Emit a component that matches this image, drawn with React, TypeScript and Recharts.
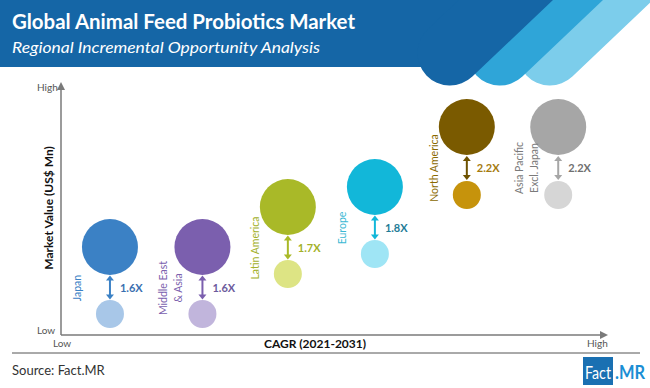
import React from 'react';
import { ScatterChart, Scatter, XAxis, YAxis } from 'recharts';

// region names as they are written (one entry per line of the rotated label)
const regionLines: string[][] = [
  ['Japan'],
  ['Middle East', '& Asia'],
  ['Latin America'],
  ['Europe'],
  ['North America'],
  ['Asia Pacific', 'Excl. Japan'],
];

// relative position on the CAGR axis (low -> high, 0..100)
const cagr = [9, 26, 41.7, 57.7, 74.6, 91.4];
// relative market value (low -> high, 0..100)
const value2021 = [8.4, 8.4, 24.4, 32.4, 56, 56];
const value2031 = [35.2, 35.2, 51.2, 59.2, 83.2, 83.2];
const multiplier = ['1.6X', '1.6X', '1.7X', '1.8X', '2.2X', '2.2X'];

const bigColor = ['#3b81c5', '#7b5fae', '#a9b928', '#12b7d9', '#7a5a00', '#a6a6a6'];
const smallColor = ['#a8c7e8', '#c1b5dc', '#dde484', '#9fe5f5', '#c6930c', '#d6d6d6'];
const arrowColor = ['#3b81c5', '#7b5fae', '#a9b928', '#12b7d9', '#6e5200', '#a6a6a6'];
const multColor = ['#3a6fb0', '#6c5a9c', '#a3b12a', '#1f7c97', '#a57b10', '#707070'];
const nameColor = ['#3b81c5', '#7b5fae', '#a3b12a', '#3ab8d4', '#8a6a00', '#7a7a7a'];

const bigR = 28;
const smallR = 14;
const FONT = 'Lato, "Open Sans", sans-serif';

const nowRows = cagr.map((x, i) => ({ i, x, y: value2021[i] }));
const futureRows = cagr.map((x, i) => ({ i, x, y: value2031[i] }));
const midRows = cagr.map((x, i) => ({ i, x, y: (value2021[i] + value2031[i]) / 2 }));

const BigBubble = (p: any) => {
  const { cx, cy, payload } = p;
  const i = payload.i;
  const lines = regionLines[i];
  const offs = lines.length === 1 ? [-33] : [-39, -24];
  return (
    <g>
      <circle cx={cx} cy={cy} r={bigR} fill={bigColor[i]} />
      {lines.map((t, k) => (
        <text
          key={k}
          x={cx + offs[k]}
          y={cy + 41}
          transform={`rotate(-90 ${cx + offs[k]} ${cy + 41})`}
          textAnchor="middle"
          dominantBaseline="central"
          fontSize={10.5}
          fontFamily={FONT}
          fill={nameColor[i]}
        >
          {t}
        </text>
      ))}
    </g>
  );
};

const SmallBubble = (p: any) => {
  const { cx, cy, payload } = p;
  return <circle cx={cx} cy={cy} r={smallR} fill={smallColor[payload.i]} />;
};

const GrowthArrow = (p: any) => {
  const { cx, payload } = p;
  const i = payload.i;
  const cy = p.cy + (bigR - smallR) / 2;
  const c = arrowColor[i];
  const h = 12;
  return (
    <g>
      <line x1={cx} y1={cy - h + 4} x2={cx} y2={cy + h - 4} stroke={c} strokeWidth={2} />
      <path d={`M${cx - 4},${cy - h + 5} L${cx},${cy - h} L${cx + 4},${cy - h + 5} Z`} fill={c} />
      <path d={`M${cx - 4},${cy + h - 5} L${cx},${cy + h} L${cx + 4},${cy + h - 5} Z`} fill={c} />
      <text x={cx + 10} y={cy + 4} fontSize={11} fontWeight={700} fontFamily={FONT} fill={multColor[i]}>
        {multiplier[i]}
      </text>
    </g>
  );
};

const Header = () => (
  <svg width={650} height={100} style={{ position: 'absolute', left: 0, top: 0 }}>
    <line x1={550} y1={53} x2={670} y2={-61} stroke="#7ccdeb" strokeWidth={65} strokeLinecap="round" />
    <line x1={500} y1={53} x2={620} y2={-61} stroke="#2fa5d8" strokeWidth={65} strokeLinecap="round" />
    <rect x={0} y={0} width={470} height={67} fill="#1566a6" />
    <line x1={450} y1={53} x2={570} y2={-61} stroke="#1566a6" strokeWidth={65} strokeLinecap="round" />
    <text x={12} y={29} fontSize={20} fontWeight={700} fill="#fff" fontFamily={FONT} textLength={343} lengthAdjust="spacingAndGlyphs">
      Global Animal Feed Probiotics Market
    </text>
    <text x={12} y={53} fontSize={15} fontStyle="italic" fill="#fff" fontFamily={FONT} textLength={308} lengthAdjust="spacingAndGlyphs">
      Regional Incremental Opportunity Analysis
    </text>
  </svg>
);

const Frame = () => (
  <svg width={650} height={388} style={{ position: 'absolute', left: 0, top: 0, pointerEvents: 'none' }}>
    {/* axes with arrow heads */}
    <line x1={61} y1={335} x2={61} y2={88} stroke="#7a7a7a" strokeWidth={1.5} />
    <path d="M57,90 L61,82 L65,90 Z" fill="#7a7a7a" />
    <line x1={61} y1={335} x2={602} y2={335} stroke="#7a7a7a" strokeWidth={1.5} />
    <path d="M600,331 L608,335 L600,339 Z" fill="#7a7a7a" />
    <g fontFamily={FONT} fontSize={10} fill="#555">
      <text x={37} y={91}>High</text>
      <text x={37} y={334}>Low</text>
      <text x={53} y={347}>Low</text>
      <text x={587} y={347}>High</text>
    </g>
    <text x={315} y={348} textAnchor="middle" fontFamily={FONT} fontSize={12} fontWeight={700} fill="#111">
      CAGR (2021-2031)
    </text>
    <text
      x={48}
      y={208}
      transform="rotate(-90 48 208)"
      textAnchor="middle"
      dominantBaseline="central"
      fontFamily={FONT}
      fontSize={12}
      fontWeight={700}
      fill="#111"
    >
      Market Value (US$ Mn)
    </text>
    {/* footer */}
    <line x1={12} y1={353} x2={640} y2={353} stroke="#555" strokeWidth={1} />
    <text x={12} y={375} fontFamily={FONT} fontSize={13} fill="#333">Source: Fact.MR</text>
    <rect x={583} y={357} width={30} height={28} fill="#1a70b2" />
    <text x={585} y={379} fontFamily={FONT} fontSize={18} fill="#fff" textLength={26} lengthAdjust="spacingAndGlyphs">Fact</text>
    <text x={615} y={379} fontFamily={FONT} fontSize={18} fontWeight={700} fill="#1a8ed4" textLength={30} lengthAdjust="spacingAndGlyphs">.MR</text>
  </svg>
);

export default function App() {
  return (
    <div style={{ position: 'absolute', left: 0, top: 0, width: 650, height: 388, background: '#fff', overflow: 'hidden' }}>
      <Header />
      <div style={{ position: 'absolute', left: 0, top: 0 }}>
        <ScatterChart width={650} height={388} margin={{ top: 85, right: 45, bottom: 53, left: 61 }}>
          <XAxis type="number" dataKey="x" domain={[0, 100]} hide />
          <YAxis type="number" dataKey="y" domain={[0, 100]} hide />
          <Scatter data={midRows} isAnimationActive={false} shape={<GrowthArrow />} />
          <Scatter data={nowRows} isAnimationActive={false} shape={<SmallBubble />} />
          <Scatter data={futureRows} isAnimationActive={false} shape={<BigBubble />} />
        </ScatterChart>
      </div>
      <Frame />
    </div>
  );
}
